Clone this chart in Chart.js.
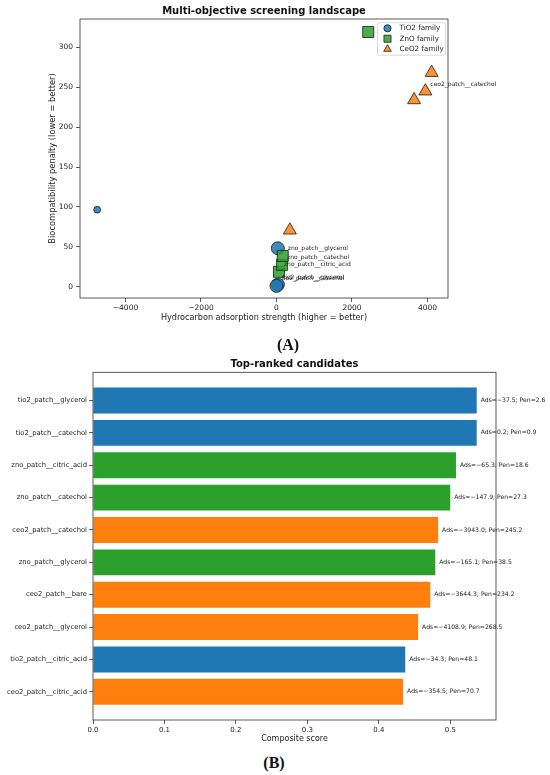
<!DOCTYPE html>
<html>
<head>
<meta charset="utf-8">
<script src="https://cdn.jsdelivr.net/npm/chart.js@4.4.1/dist/chart.umd.min.js"></script>
<style>
  html, body { margin: 0; padding: 0; background: #fff; }
  body { width: 550px; height: 775px; position: relative; overflow: hidden; }
  canvas { position: absolute; left: 0; }
  #scatterChart { top: 0; }
  #barChart { top: 340px; }
  .panel-tag {
    position: absolute;
    font-family: "Liberation Serif", serif;
    font-weight: bold;
    font-size: 16px;
    color: #111;
    transform: translate(-50%, -50%);
  }
</style>
</head>
<body>
<canvas id="scatterChart" width="550" height="324"></canvas>
<canvas id="barChart" width="550" height="406"></canvas>
<div class="panel-tag" style="left:288px; top:345px">(A)</div>
<div class="panel-tag" style="left:274px; top:763px">(B)</div>
<script>
// panel A: adsorption strength (x) vs biocompatibility penalty (y), per family
const tio2Names = ['tio2_patch__glycerol', 'tio2_patch__catechol', 'tio2_patch__citric_acid', 'tio2_patch__bare'];
const tio2Strength = [37.5, -0.2, 34.3, -4750];
const tio2Penalty = [2.6, 0.9, 48.1, 96.5];

const znoNames = ['zno_patch__citric_acid', 'zno_patch__catechol', 'zno_patch__glycerol', 'zno_patch__bare'];
const znoStrength = [65.3, 147.9, 165.1, 2430];
const znoPenalty = [18.6, 27.3, 38.5, 319.5];

const ceo2Names = ['ceo2_patch__catechol', 'ceo2_patch__bare', 'ceo2_patch__glycerol', 'ceo2_patch__citric_acid'];
const ceo2Strength = [3943.0, 3644.3, 4108.9, 354.5];
const ceo2Penalty = [245.2, 234.2, 268.5, 70.7];

const scatterXTicks = [-4000, -2000, 0, 2000, 4000];
const scatterYTicks = [0, 50, 100, 150, 200, 250, 300];

// panel B: top-ranked candidates
const rankNames = ['tio2_patch__glycerol', 'tio2_patch__catechol', 'zno_patch__citric_acid', 'zno_patch__catechol',
    'ceo2_patch__catechol', 'zno_patch__glycerol', 'ceo2_patch__bare', 'ceo2_patch__glycerol',
    'tio2_patch__citric_acid', 'ceo2_patch__citric_acid'];
const rankScores = [0.537, 0.537, 0.508, 0.500, 0.483, 0.479, 0.472, 0.455, 0.437, 0.434];
const rankAds = [-37.5, 0.2, -65.3, -147.9, -3943.0, -165.1, -3644.3, -4108.9, -34.3, -354.5];
const rankPen = [2.6, 0.9, 18.6, 27.3, 245.2, 38.5, 234.2, 268.5, 48.1, 70.7];
const barXTicks = [0, 0.1, 0.2, 0.3, 0.4, 0.5];

const familyColors = { tio2: '#1f77b4', zno: '#2ca02c', ceo2: '#ff7f0e' };
const familyFill = { tio2: 'rgba(31,119,180,0.85)', zno: 'rgba(44,160,44,0.85)', ceo2: 'rgba(255,127,14,0.85)' };
const FONT = '"DejaVu Sans", sans-serif';
const MINUS = '\u2212';

function minusFmt(v) {
    return v < 0 ? MINUS + Math.abs(v) : String(v);
}

function points(xs, ys) {
    return xs.map((x, i) => ({ x: x, y: ys[i] }));
}

// matplotlib-style closed frame around the plot area
const framePlugin = {
    id: 'frame',
    afterDraw(chart) {
        const a = chart.chartArea;
        const c = chart.ctx;
        c.save();
        c.strokeStyle = '#333';
        c.lineWidth = 0.8;
        c.strokeRect(a.left, a.top, a.right - a.left, a.bottom - a.top);
        c.restore();
    }
};

// name tags next to the top-ranked points
const pointTagPlugin = {
    id: 'pointTags',
    afterDatasetsDraw(chart) {
        const c = chart.ctx;
        const top = rankNames.slice(0, 6);
        c.save();
        c.font = '6px ' + FONT;
        c.fillStyle = '#222';
        c.textBaseline = 'middle';
        chart.data.datasets.forEach((ds, di) => {
            chart.getDatasetMeta(di).data.forEach((pt, i) => {
                if (top.includes(ds.names[i])) {
                    c.fillText(ds.names[i], pt.x + 5, pt.y - 7);
                }
            });
        });
        c.restore();
    }
};

// legend box drawn inside the plot area, upper right
const insideLegendPlugin = {
    id: 'insideLegend',
    afterDraw(chart) {
        const a = chart.chartArea;
        const c = chart.ctx;
        const w = 68, h = 32.5;
        const x0 = a.right - 2.5 - w, y0 = a.top + 3.7;
        c.save();
        c.fillStyle = 'rgba(255,255,255,0.85)';
        c.strokeStyle = '#d0d0d0';
        c.lineWidth = 0.8;
        c.beginPath();
        c.roundRect(x0, y0, w, h, 2);
        c.fill();
        c.stroke();
        c.font = '7.2px ' + FONT;
        c.textBaseline = 'middle';
        chart.data.datasets.forEach((ds, i) => {
            const y = y0 + 5.6 + i * 10.4;
            c.fillStyle = ds.backgroundColor;
            c.strokeStyle = '#1a1a1a';
            c.lineWidth = 0.8;
            Chart.helpers.drawPoint(c, { pointStyle: ds.pointStyle, radius: ds.legendRadius, borderWidth: 0.8 }, x0 + 10, y);
            c.fillStyle = '#222';
            c.fillText(ds.label, x0 + 22, y);
        });
        c.restore();
    }
};

function renderScatter() {
    const ctx = document.getElementById('scatterChart').getContext('2d');
    new Chart(ctx, {
        type: 'scatter',
        data: {
            datasets: [{
                label: 'TiO2 family',
                names: tio2Names,
                data: points(tio2Strength, tio2Penalty),
                pointStyle: 'circle',
                pointRadius: [6.5, 6.5, 6.5, 3.4],
                legendRadius: 3.6,
                backgroundColor: familyFill.tio2,
                borderColor: '#1a1a1a',
                borderWidth: 0.8,
                order: 2
            }, {
                label: 'ZnO family',
                names: znoNames,
                data: points(znoStrength, znoPenalty),
                pointStyle: 'rect',
                pointRadius: 7.8,
                legendRadius: 5,
                backgroundColor: familyFill.zno,
                borderColor: '#1a1a1a',
                borderWidth: 0.8,
                order: 1
            }, {
                label: 'CeO2 family',
                names: ceo2Names,
                data: points(ceo2Strength, ceo2Penalty),
                pointStyle: 'triangle',
                pointRadius: 7.5,
                legendRadius: 4.4,
                backgroundColor: familyFill.ceo2,
                borderColor: '#1a1a1a',
                borderWidth: 0.8,
                order: 0
            }]
        },
        options: {
            responsive: false,
            animation: false,
            events: [],
            layout: { padding: { left: 44, right: 102, top: 0, bottom: 0 } },
            plugins: {
                legend: { display: false },
                tooltip: { enabled: false },
                title: {
                    display: true,
                    fullSize: false,
                    text: 'Multi-objective screening landscape',
                    color: '#111',
                    font: { family: FONT, size: 10, weight: 'bold' },
                    padding: { top: 5, bottom: 2 }
                }
            },
            scales: {
                x: {
                    type: 'linear',
                    min: -5205,
                    max: 4543,
                    afterBuildTicks: s => { s.ticks = scatterXTicks.map(v => ({ value: v })); },
                    afterFit: s => { s.height = 26; },
                    ticks: { font: { family: FONT, size: 7.5 }, color: '#222', padding: 2, maxRotation: 0, callback: v => minusFmt(v) },
                    grid: { display: true, drawOnChartArea: false, drawTicks: true, tickLength: 4, color: '#333', lineWidth: 0.8 },
                    border: { display: false },
                    title: {
                        display: true,
                        text: 'Hydrocarbon adsorption strength (higher = better)',
                        color: '#222',
                        font: { family: FONT, size: 8.1 },
                        padding: { top: 0, bottom: 1.5 }
                    }
                },
                y: {
                    type: 'linear',
                    min: -14.3,
                    max: 335.8,
                    afterBuildTicks: s => { s.ticks = scatterYTicks.map(v => ({ value: v })); },
                    afterFit: s => { s.width = 36; },
                    ticks: { font: { family: FONT, size: 7.5 }, color: '#222', padding: 3, callback: v => minusFmt(v) },
                    grid: { display: true, drawOnChartArea: false, drawTicks: true, tickLength: 4, color: '#333', lineWidth: 0.8 },
                    border: { display: false },
                    title: {
                        display: true,
                        text: 'Biocompatibility penalty (lower = better)',
                        color: '#222',
                        font: { family: FONT, size: 8.3 },
                        padding: { top: 4, bottom: 0 }
                    }
                }
            }
        },
        plugins: [framePlugin, pointTagPlugin, insideLegendPlugin]
    });
}

// value text to the right of each bar
const barTagPlugin = {
    id: 'barTags',
    afterDatasetsDraw(chart) {
        const c = chart.ctx;
        c.save();
        c.font = '6.1px ' + FONT;
        c.fillStyle = '#222';
        c.textBaseline = 'middle';
        chart.getDatasetMeta(0).data.forEach((bar, i) => {
            const txt = 'Ads=' + (rankAds[i] < 0 ? MINUS + Math.abs(rankAds[i]).toFixed(1) : rankAds[i].toFixed(1)) +
                '; Pen=' + rankPen[i].toFixed(1);
            c.fillText(txt, bar.x + 4, bar.y);
        });
        c.restore();
    }
};

function renderBars() {
    const ctx = document.getElementById('barChart').getContext('2d');
    const colors = rankNames.map(n => familyColors[n.split('_')[0]]);
    new Chart(ctx, {
        type: 'bar',
        data: {
            datasets: [{
                label: 'Composite score',
                data: rankScores.map((s, i) => ({ x: s, y: i })),
                backgroundColor: colors,
                borderWidth: 0,
                categoryPercentage: 1.0,
                barPercentage: 0.8
            }]
        },
        options: {
            indexAxis: 'y',
            responsive: false,
            animation: false,
            events: [],
            layout: { padding: { left: 0, right: 54, top: 0, bottom: 0 } },
            plugins: {
                legend: { display: false },
                tooltip: { enabled: false },
                title: {
                    display: true,
                    fullSize: false,
                    text: 'Top-ranked candidates',
                    color: '#111',
                    font: { family: FONT, size: 10, weight: 'bold' },
                    padding: { top: 18, bottom: 2.3 }
                }
            },
            scales: {
                x: {
                    type: 'linear',
                    min: 0,
                    max: 0.564,
                    afterBuildTicks: s => { s.ticks = barXTicks.map(v => ({ value: v })); },
                    afterFit: s => { s.height = 26; },
                    ticks: { font: { family: FONT, size: 7 }, color: '#222', padding: 2, maxRotation: 0, callback: v => v.toFixed(1) },
                    grid: { display: true, drawOnChartArea: false, drawTicks: true, tickLength: 4, color: '#333', lineWidth: 0.8 },
                    border: { display: false },
                    title: {
                        display: true,
                        text: 'Composite score',
                        color: '#222',
                        font: { family: FONT, size: 8 },
                        padding: { top: 0, bottom: 2 }
                    }
                },
                y: {
                    type: 'linear',
                    min: -0.871,
                    max: 9.871,
                    reverse: true,
                    offset: false,
                    afterBuildTicks: s => { s.ticks = rankNames.map((n, i) => ({ value: i })); },
                    afterFit: s => { s.width = 93; },
                    ticks: { font: { family: FONT, size: 6.8 }, color: '#222', padding: 2, autoSkip: false, callback: v => rankNames[v] },
                    grid: { display: true, offset: false, drawOnChartArea: false, drawTicks: true, tickLength: 4, color: '#333', lineWidth: 0.8 },
                    border: { display: false }
                }
            }
        },
        plugins: [framePlugin, barTagPlugin]
    });
}

renderScatter();
renderBars();
</script>
</body>
</html>
